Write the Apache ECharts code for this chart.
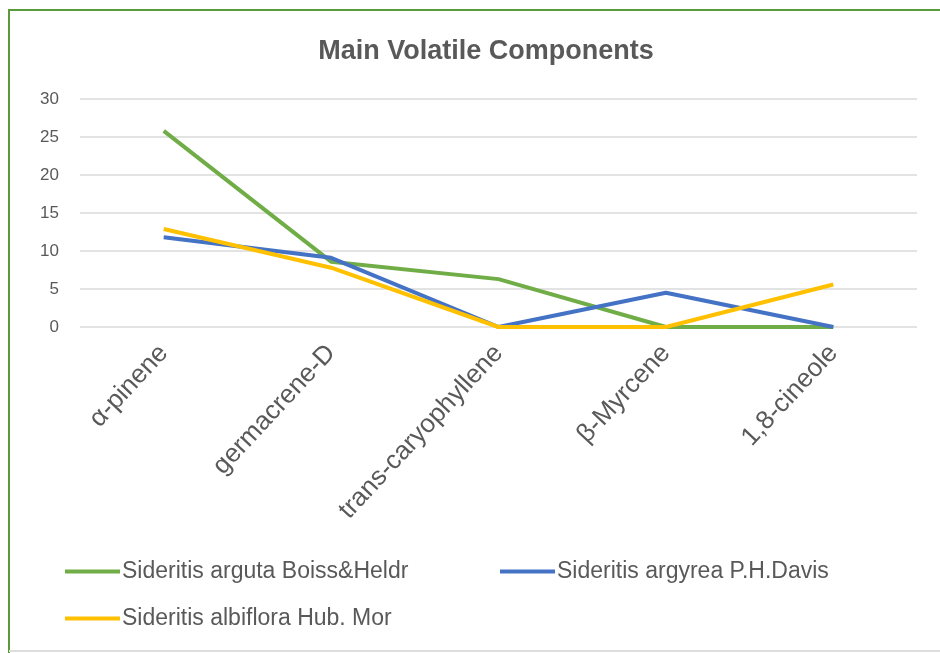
<!DOCTYPE html>
<html>
<head>
<meta charset="utf-8">
<script src="https://cdn.jsdelivr.net/npm/echarts@6/dist/echarts.min.js"></script>
<style>
  html, body { margin: 0; padding: 0; background: #fff; }
  #chart { width: 940px; height: 653px; }
</style>
</head>
<body>
<div id="chart"></div>
<script>
const categories = ['α-pinene', 'germacrene-D', 'trans-caryophyllene', 'β-Myrcene', '1,8-cineole']
const argutaValues = [25.8, 8.6, 6.3, 0, 0]
const argyreaValues = [11.8, 9.1, 0, 4.5, 0]
const albifloraValues = [12.9, 7.8, 0, 0, 5.6]
const seriesNames = ['Sideritis arguta Boiss&Heldr', 'Sideritis argyrea P.H.Davis', 'Sideritis albiflora Hub. Mor']

const grey = '#595959'
const font = 'Liberation Sans, Arial, sans-serif'

const chart = echarts.init(document.getElementById('chart'))

const legendBase = {
  orient: 'horizontal',
  itemWidth: 55,
  itemHeight: 4,
  itemGap: 6,
  icon: 'rect',
  textStyle: { color: grey, fontSize: 23, fontFamily: font, padding: [0, 0, 0, -3] }
}

function makeSeries(name, data, color) {
  return {
    name: name,
    type: 'line',
    data: data,
    symbol: 'none',
    lineStyle: { width: 4, color: color },
    itemStyle: { color: color },
    animation: false
  }
}

chart.setOption({
  title: {
    text: 'Main Volatile Components',
    left: 481,
    textAlign: 'center',
    top: 33,
    textStyle: { color: grey, fontSize: 27, fontWeight: 'bold', fontFamily: font }
  },
  legend: [
    Object.assign({ data: [seriesNames[0]], left: 60, top: 555 }, legendBase),
    Object.assign({ data: [seriesNames[1]], left: 495, top: 555 }, legendBase),
    Object.assign({ data: [seriesNames[2]], left: 60, top: 602 }, legendBase)
  ],
  grid: {
    left: 80,
    right: 23,
    top: 99,
    bottom: 326
  },
  xAxis: {
    type: 'category',
    data: categories,
    boundaryGap: true,
    axisLine: { show: false },
    axisTick: { show: false },
    axisLabel: {
      rotate: 47,
      color: grey,
      fontSize: 26,
      fontFamily: font,
      margin: 22
    }
  },
  yAxis: {
    type: 'value',
    min: 0,
    max: 30,
    interval: 5,
    axisLine: { show: false },
    axisTick: { show: false },
    axisLabel: { color: grey, fontSize: 17, fontFamily: font, margin: 21 },
    splitLine: { lineStyle: { color: '#e3e3e3', width: 2 } }
  },
  graphic: [
    { type: 'line', shape: { x1: 8, y1: 10, x2: 940, y2: 10 }, style: { stroke: '#5b9a3a', lineWidth: 2 } },
    { type: 'line', shape: { x1: 9, y1: 10, x2: 9, y2: 653 }, style: { stroke: '#5b9a3a', lineWidth: 2 } },
    { type: 'line', shape: { x1: 9, y1: 651, x2: 940, y2: 651 }, style: { stroke: '#dddddd', lineWidth: 2 } }
  ],
  series: [
    makeSeries(seriesNames[0], argutaValues, '#70AD47'),
    makeSeries(seriesNames[1], argyreaValues, '#4472C4'),
    makeSeries(seriesNames[2], albifloraValues, '#FFC000')
  ]
})
</script>
</body>
</html>
